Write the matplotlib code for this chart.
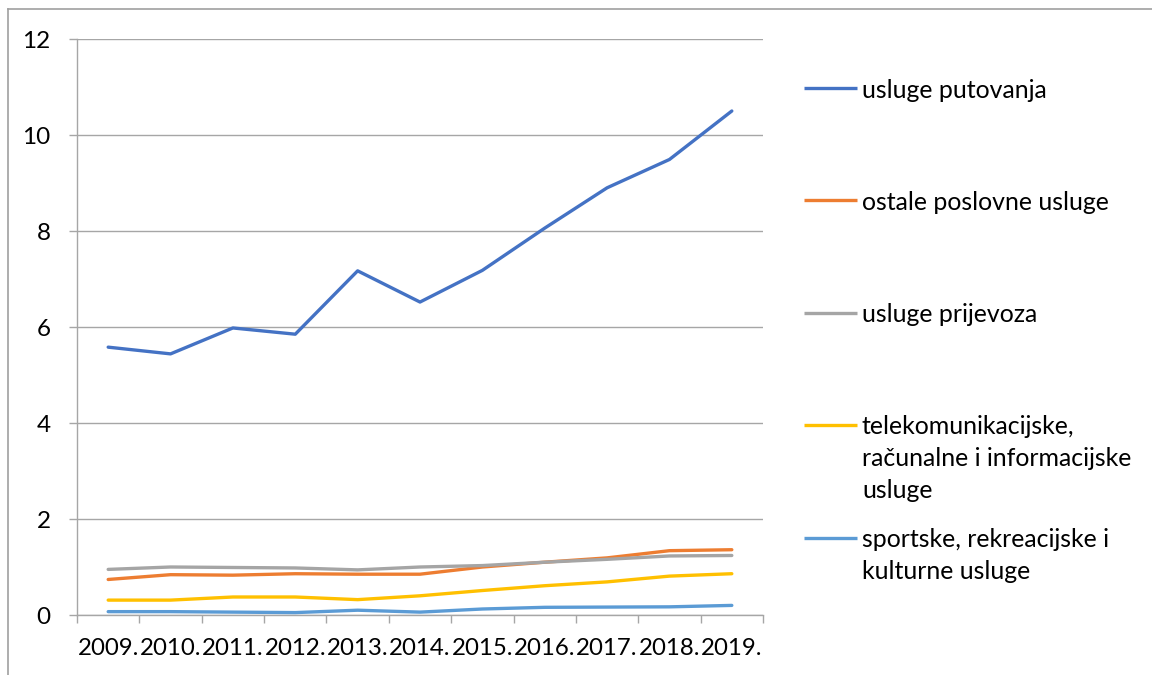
import matplotlib
matplotlib.use("Agg")
import matplotlib.pyplot as plt
from matplotlib.lines import Line2D
from matplotlib.ticker import FixedLocator, NullFormatter

plt.rcParams['font.family'] = ['Lato', 'DejaVu Sans']

years = ['2009.', '2010.', '2011.', '2012.', '2013.', '2014.', '2015.',
         '2016.', '2017.', '2018.', '2019.']
putovanja = [5.58, 5.44, 5.98, 5.85, 7.17, 6.52, 7.18, 8.06, 8.90, 9.49, 10.50]
poslovne = [0.74, 0.84, 0.83, 0.86, 0.85, 0.85, 1.00, 1.10, 1.19, 1.34, 1.36]
prijevoz = [0.95, 1.00, 0.99, 0.98, 0.94, 1.00, 1.03, 1.10, 1.16, 1.23, 1.24]
telekom = [0.31, 0.31, 0.375, 0.375, 0.32, 0.40, 0.51, 0.61, 0.69, 0.81, 0.86]
sport = [0.07, 0.07, 0.06, 0.05, 0.10, 0.06, 0.125, 0.16, 0.165, 0.17, 0.20]

series_names = ['usluge putovanja', 'ostale poslovne usluge', 'usluge prijevoza',
                'telekomunikacijske,\nračunalne i informacijske\nusluge',
                'sportske, rekreacijske i\nkulturne usluge']
series_values = [putovanja, poslovne, prijevoz, telekom, sport]
colors = ['#4472C4', '#ED7D31', '#A5A5A5', '#FFC000', '#5B9BD5']

W, H = 1152, 675
fig = plt.figure(figsize=(W / 100, H / 100), dpi=100)
fig.patch.set_facecolor('white')

def fx(px):
    return px / W

def fy(py):
    return 1 - py / H

ax = fig.add_axes([fx(77), fy(615), fx(763) - fx(77), fy(39) - fy(615)])

x = list(range(len(years)))
for vals, c in zip(series_values, colors):
    ax.plot(x, vals, color=c, lw=2.4, solid_joinstyle='round',
            solid_capstyle='round', zorder=3)

grid_c = '#A6A6A6'
ax.set_xlim(-0.5, len(years) - 0.5)
ax.set_ylim(0, 12)
ax.set_yticks(range(0, 13, 2))
ax.yaxis.grid(True, color=grid_c, lw=1.0)
ax.set_axisbelow(True)
for s in ['top', 'right']:
    ax.spines[s].set_visible(False)
for s in ['left', 'bottom']:
    ax.spines[s].set_color(grid_c)
    ax.spines[s].set_linewidth(1.0)

ax.set_xticks(x)
ax.set_xticklabels(years)
ax.xaxis.set_minor_locator(FixedLocator([i - 0.5 for i in range(len(years) + 1)]))
ax.xaxis.set_minor_formatter(NullFormatter())
ax.tick_params(axis='x', which='major', length=0, pad=16.5, labelsize=17.3)
ax.tick_params(axis='x', which='minor', length=6, width=1.0, color=grid_c)
ax.tick_params(axis='y', which='major', length=6, width=1.0, color=grid_c,
               pad=13, labelsize=17.5)

# legend (drawn manually to mimic Excel's spacing)
leg_y = [88, 200, 312.5, 425, 537.5]
line_h = 31.7
for name, c, ly in zip(series_names, colors, leg_y):
    fig.add_artist(Line2D([fx(804), fx(857)], [fy(ly), fy(ly)], color=c, lw=2.4,
                          solid_capstyle='butt'))
    for i, part in enumerate(name.split('\n')):
        fig.text(fx(862), fy(ly + 9.5 + i * line_h), part, fontsize=17.9,
                 va='baseline', ha='left', color='black')

# outer chart frame (cropped)
frame_c = '#A0A0A0'
fig.add_artist(Line2D([fx(8), 1.0], [fy(9), fy(9)], color=frame_c, lw=1.2))
fig.add_artist(Line2D([fx(8), fx(8)], [fy(9), 0.0], color=frame_c, lw=1.2))

fig.savefig('out.png', dpi=100, facecolor='white')
